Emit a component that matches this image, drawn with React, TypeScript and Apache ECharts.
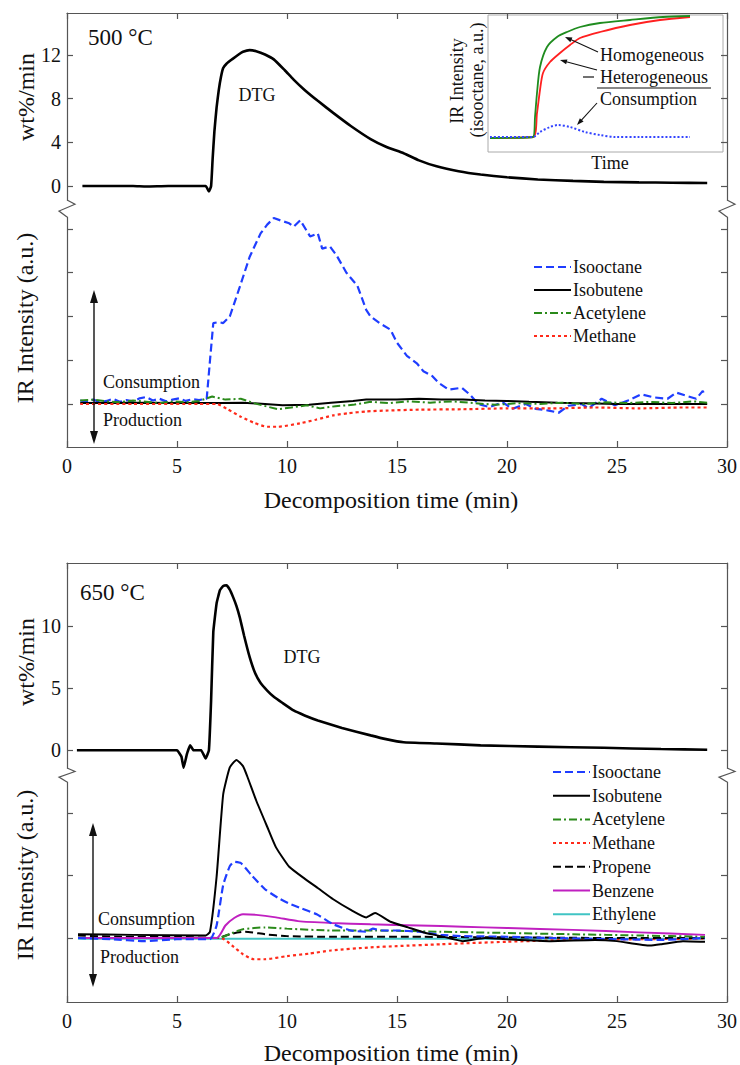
import React, { useEffect, useRef } from "react";
import * as echarts from "echarts";

// ---------- data ----------
const xTickValues = [0, 5, 10, 15, 20, 25, 30];
const dtgTicks500 = [0, 4, 8, 12];
const dtgTicks650 = [0, 5, 10];
const irTicks500 = [0, 1, 2, 3, 4];
const irTicks650 = [0, 1, 2];

const legend500 = ["Isooctane", "Isobutene", "Acetylene", "Methane"];
const legend650 = ["Isooctane", "Isobutene", "Acetylene", "Methane", "Propene", "Benzene", "Ethylene"];

const dtg500: [number, number][] = [
  [0.7, 0], [3.0, 0], [3.6, -0.05], [4.6, 0], [6.3, 0], [6.45, -0.5], [6.55, 0], [6.62, 2.5], [6.7, 5.0],
  [6.8, 7.2], [6.9, 8.8], [7.0, 10.0], [7.1, 10.8], [7.25, 11.2], [7.5, 11.6], [7.8, 12.05], [8.0, 12.3],
  [8.3, 12.45], [8.6, 12.35], [9.0, 12.05], [9.4, 11.6], [9.9, 10.6], [10.3, 9.75], [10.8, 8.8], [11.4, 7.8],
  [12.1, 6.7], [12.9, 5.5], [13.8, 4.3], [14.5, 3.6], [15.3, 3.0], [16.0, 2.35], [16.8, 1.8], [17.8, 1.35],
  [18.8, 1.05], [20.0, 0.8], [21.4, 0.6], [23.0, 0.47], [24.4, 0.38], [26.0, 0.33], [27.5, 0.3], [29.1, 0.27],
];

const isooctane500: [number, number][] = [
  [0.6, 0.08], [0.9, 0.05], [1.2, 0.1], [1.5, 0.04], [1.8, 0.07], [2.1, 0.12], [2.4, 0.05], [2.7, 0.09],
  [3.0, 0.06], [3.3, 0.13], [3.6, 0.16], [3.9, 0.08], [4.2, 0.12], [4.5, 0.06], [4.8, 0.1], [5.1, 0.13],
  [5.4, 0.07], [5.7, 0.11], [6.0, 0.09], [6.35, 0.12], [6.5, 1.0], [6.65, 1.85], [6.9, 1.87], [7.1, 1.85],
  [7.4, 2.0], [7.85, 2.67], [8.3, 3.36], [8.8, 3.9], [9.1, 4.1], [9.4, 4.25], [9.8, 4.18], [10.1, 4.13],
  [10.3, 4.05], [10.6, 4.2], [11.05, 3.83], [11.4, 3.9], [11.6, 3.55], [11.95, 3.6], [12.25, 3.4],
  [12.7, 3.0], [13.2, 2.7], [13.6, 2.15], [13.8, 2.0], [14.2, 1.85], [14.7, 1.7], [15.0, 1.4], [15.45, 1.1],
  [15.9, 0.93], [16.2, 0.75], [16.6, 0.64], [16.9, 0.48], [17.35, 0.33], [17.95, 0.37], [18.3, 0.22],
  [18.7, 0.0], [19.2, -0.07], [19.8, 0.04], [20.25, -0.11], [20.85, 0.0], [21.3, -0.11], [21.9, -0.15],
  [22.35, -0.2], [22.8, -0.04], [23.4, 0.0], [23.7, -0.1], [24.3, 0.12], [24.9, -0.03], [25.5, 0.08],
  [26.1, 0.22], [26.7, 0.15], [27.3, 0.12], [27.7, 0.26], [28.2, 0.18], [28.6, 0.12], [28.9, 0.3], [29.0, 0.18],
];

const isobutene500: [number, number][] = [
  [0.6, 0.02], [3, 0.03], [6, 0.02], [7, 0.02], [8, 0.03], [9, 0.0], [9.8, -0.03], [11, -0.02], [12, 0.03],
  [13, 0.07], [13.6, 0.1], [15, 0.1], [16, 0.12], [17, 0.1], [18, 0.1], [19, 0.08], [20, 0.07], [21, 0.05],
  [22.3, 0.03], [23, 0.02], [25, 0.0], [27, 0.0], [29.1, 0.0],
];

const acetylene500: [number, number][] = [
  [0.6, 0.08], [1.2, 0.1], [1.8, 0.06], [2.4, 0.04], [3.0, 0.08], [3.6, 0.05], [4.2, 0.02], [4.8, 0.06],
  [5.4, 0.04], [6.0, 0.07], [6.6, 0.17], [7.2, 0.1], [7.9, 0.12], [8.5, 0.02], [9.1, -0.06], [9.6, -0.12],
  [10.2, -0.08], [10.9, -0.03], [11.5, -0.1], [12.2, -0.05], [13.0, -0.02], [13.8, 0.05], [14.6, 0.02],
  [15.5, 0.06], [16.5, 0.03], [17.5, 0.06], [18.5, 0.02], [19.5, -0.02], [20.5, 0.02], [21.5, 0.0],
  [22.5, 0.03], [23.5, 0.0], [24.5, 0.04], [25.5, 0.02], [26.5, 0.05], [27.5, 0.02], [28.5, 0.06], [29.1, 0.03],
];

const methane500: [number, number][] = [
  [0.6, 0], [3, 0], [6, 0], [6.8, 0], [7.3, -0.12], [7.9, -0.29], [8.5, -0.43], [9.1, -0.52], [9.6, -0.52],
  [10.6, -0.44], [11.3, -0.36], [12.1, -0.26], [12.8, -0.21], [13.6, -0.17], [14.5, -0.15], [16, -0.13],
  [18, -0.12], [20, -0.1], [22, -0.1], [24, -0.08], [26, -0.1], [28, -0.08], [29.1, -0.08],
];

const dtg650: [number, number][] = [
  [0.45, 0], [2, 0], [3.5, 0], [5.0, 0], [5.2, -0.5], [5.3, -1.4], [5.45, -0.3], [5.6, 0.4], [5.75, 0],
  [6.1, 0], [6.3, -0.65], [6.45, 0], [6.55, 4.0], [6.65, 9.5], [6.8, 11.8], [6.95, 12.85], [7.1, 13.2],
  [7.25, 13.25], [7.4, 12.9], [7.55, 12.3], [7.7, 11.6], [7.85, 10.7], [8.05, 9.2], [8.3, 7.5], [8.55, 6.2],
  [8.8, 5.4], [9.1, 4.8], [9.4, 4.3], [9.8, 3.8], [10.3, 3.2], [10.8, 2.8], [11.4, 2.4], [12.5, 1.8],
  [13.8, 1.2], [14.5, 0.9], [15.3, 0.65], [16.8, 0.55], [18.8, 0.4], [21.4, 0.3], [24.4, 0.2], [27, 0.1],
  [29.1, 0.05],
];

const isobutene650: [number, number][] = [
  [0.5, 0.06], [3, 0.05], [6.3, 0.04], [6.5, 0.1], [6.8, 0.98], [7.1, 2.3], [7.4, 2.73], [7.7, 2.85],
  [8.0, 2.75], [8.2, 2.58], [8.6, 2.2], [9.1, 1.78], [9.5, 1.45], [10.1, 1.14], [10.8, 0.95], [11.4, 0.8],
  [12.1, 0.62], [12.9, 0.45], [13.6, 0.33], [14.0, 0.4], [14.7, 0.26], [15.5, 0.17], [16.3, 0.08], [17, 0.03],
  [18, -0.05], [19, 0.0], [20, -0.02], [22, -0.05], [24, -0.03], [25, -0.05], [26.5, -0.12], [27, -0.1],
  [28, -0.05], [29, -0.06],
];

const isooctane650: [number, number][] = [
  [0.5, 0.0], [2, -0.02], [3.5, -0.05], [5, -0.02], [6.5, -0.02], [6.8, 0.2], [7.1, 0.85], [7.4, 1.15],
  [7.6, 1.22], [7.9, 1.2], [8.4, 1.0], [9.0, 0.78], [9.6, 0.64], [10.1, 0.55], [10.6, 0.48], [11.35, 0.38],
  [12.1, 0.22], [12.9, 0.12], [13.6, 0.1], [13.9, 0.15], [14.3, 0.12], [15, 0.12], [16, 0.1], [17, 0.05],
  [18, 0.03], [20, 0.02], [22, 0.0], [25, -0.02], [27, -0.03], [29, 0.0],
];

const acetylene650: [number, number][] = [
  [0.5, 0.0], [6.9, 0.0], [7.5, 0.08], [8.0, 0.14], [9.0, 0.17], [10, 0.15], [12, 0.12], [14, 0.12],
  [17, 0.1], [20, 0.08], [23, 0.06], [26, 0.04], [29, 0.02],
];

const methane650: [number, number][] = [
  [0.5, 0], [7.0, 0], [7.5, -0.12], [8.0, -0.26], [8.5, -0.34], [9.0, -0.34], [10, -0.29], [11, -0.25],
  [12, -0.2], [13.8, -0.15], [15, -0.13], [17, -0.1], [20, -0.06], [23, -0.03], [26, -0.02], [29, -0.01],
];

const propene650: [number, number][] = [
  [0.5, 0.04], [2.5, 0.02], [5, 0.02], [6.8, 0.0], [7.5, 0.07], [8.1, 0.1], [9, 0.06], [10, 0.03],
  [12, 0.02], [15, 0.02], [20, 0.01], [25, 0.0], [29, 0.0],
];

const benzene650: [number, number][] = [
  [0.5, 0], [6.8, 0], [7.2, 0.2], [7.6, 0.32], [8.0, 0.38], [8.6, 0.37], [9.5, 0.33], [10.5, 0.27],
  [12, 0.24], [13.8, 0.22], [16, 0.2], [18, 0.18], [20, 0.16], [23, 0.13], [26, 0.09], [29, 0.05],
];

const ethylene650: [number, number][] = [
  [0.5, -0.01], [10, -0.01], [20, -0.01], [29, -0.01],
];

// inset (schematic): arbitrary time / intensity units
const insetHomogeneous: [number, number][] = [
  [2, 14], [45, 15], [47, 35], [49, 59], [52, 85], [59, 105], [69, 115], [79, 120], [92, 125], [112, 129],
  [142, 132], [175, 135], [202, 136],
];
const insetHeterogeneous: [number, number][] = [
  [2, 14], [45, 15], [49, 39], [52, 62], [55, 79], [62, 90], [72, 99], [82, 107], [92, 114], [112, 120],
  [142, 127], [172, 132], [202, 135],
];
const insetConsumption: [number, number][] = [
  [2, 15], [45, 15], [52, 20], [62, 25], [70, 27], [82, 25], [97, 20], [112, 17], [127, 15], [152, 15], [202, 15],
];

// ---------- styling helpers ----------
const FONT = '"Liberation Serif", "Times New Roman", serif';
const AX = { color: "#555", width: 1.2 };
const INK = "#111";

const C = {
  isooctane: "#1f3dff",
  isobutene: "#000000",
  acetylene: "#2a8a1a",
  methane: "#ff2a1a",
  propene: "#000000",
  benzene: "#c020c0",
  ethylene: "#40c4c4",
};

function xAxisDef(gridIndex: number, position: string, showLabels: boolean) {
  return {
    type: "value", gridIndex, position, min: 0, max: 30, interval: 5,
    axisLine: { show: true, onZero: false, lineStyle: AX },
    axisTick: { show: true, inside: true, length: 6, lineStyle: AX },
    axisLabel: { show: showLabels, fontFamily: FONT, fontSize: 20, color: INK, margin: 9,
      customValues: xTickValues },
    splitLine: { show: false },
  };
}

function yAxisDef(gridIndex: number, position: string, min: number, max: number, ticks: number[], showLabels: boolean) {
  return {
    type: "value", gridIndex, position, min, max,
    axisLine: { show: true, onZero: false, lineStyle: AX },
    axisTick: { show: true, inside: true, length: 6, lineStyle: AX, customValues: ticks },
    axisLabel: { show: showLabels, fontFamily: FONT, fontSize: 20, color: INK, margin: 6, customValues: ticks },
    splitLine: { show: false },
  };
}

function line(name: string, data: [number, number][], xi: number, yi: number, color: string, type: any, width: number, smooth: any = false) {
  return {
    type: "line", name, data, xAxisIndex: xi, yAxisIndex: yi, symbol: "none", showSymbol: false,
    clip: false, silent: true, smooth,
    lineStyle: { color, type, width }, itemStyle: { color },
  };
}

function txt(text: string, x: number, y: number, size: number, align = "left", rot = 0) {
  return {
    type: "text", x, y, rotation: rot, z: 10,
    style: { text, font: `${size}px ${FONT}`, fill: INK, align, verticalAlign: "middle",
      textAlign: align, textVerticalAlign: "middle" },
  };
}

function seg(x1: number, y1: number, x2: number, y2: number, w = 1.2, color = INK) {
  return { type: "line", z: 10, shape: { x1, y1, x2, y2 }, style: { stroke: color, lineWidth: w } };
}

function head(tx: number, ty: number, fx: number, fy: number, len: number, wid: number) {
  const dx = tx - fx, dy = ty - fy;
  const L = Math.hypot(dx, dy);
  const ux = dx / L, uy = dy / L;
  const bx = tx - ux * len, by = ty - uy * len;
  const px = (-uy * wid) / 2, py = (ux * wid) / 2;
  return { type: "polygon", z: 10, shape: { points: [[tx, ty], [bx + px, by + py], [bx - px, by - py]] }, style: { fill: INK } };
}

function arrow(fx: number, fy: number, tx: number, ty: number, len: number, wid: number, w = 1.1) {
  const dx = tx - fx, dy = ty - fy;
  const L = Math.hypot(dx, dy);
  const ex = tx - (dx / L) * (len * 0.8), ey = ty - (dy / L) * (len * 0.8);
  return [seg(fx, fy, ex, ey, w), head(tx, ty, fx, fy, len, wid)];
}

function doubleArrow(x: number, y1: number, y2: number) {
  return [seg(x, y1 + 10, x, y2 - 10, 1.4), head(x, y1, x, y1 + 10, 13, 8), head(x, y2, x, y2 - 10, 13, 8)];
}

function zig(x: number, y1: number, y2: number) {
  const h = y2 - y1;
  return {
    type: "polyline", z: 10,
    shape: { points: [[x, y1], [x + 8, y1 + h * 0.25], [x - 8, y1 + h * 0.65], [x, y2]] },
    style: { stroke: "#555", lineWidth: 1.2, fill: null },
  };
}

const legendCommon = {
  orient: "vertical", padding: 0, itemWidth: 37, itemHeight: 12, selectedMode: false,
  itemStyle: { opacity: 0, borderWidth: 0 },
  textStyle: { fontFamily: FONT, fontSize: 18, color: INK, padding: [0, 0, 0, -3] },
};

export default function App() {
  const ref = useRef<HTMLDivElement>(null);

  useEffect(() => {
    if (!ref.current) return;
    const chart = echarts.init(ref.current, undefined, { renderer: "svg" });

    const option: any = {
      animation: false,
      backgroundColor: "#ffffff",
      grid: [
        { left: 67, right: 13, top: 13, height: 187 },   // 0: DTG 500
        { left: 67, right: 13, top: 217, height: 230 },  // 1: IR 500
        { left: 67, right: 13, top: 563, height: 205 },  // 2: DTG 650
        { left: 67, right: 13, top: 782, height: 220 },  // 3: IR 650
        { left: 488, top: 15, width: 235, height: 137, show: true, borderColor: "#aaaaaa", borderWidth: 1 }, // 4: inset
      ],
      xAxis: [
        xAxisDef(0, "top", false),
        xAxisDef(1, "bottom", true),
        xAxisDef(2, "top", false),
        xAxisDef(3, "bottom", true),
        { type: "value", gridIndex: 4, min: 0, max: 235, show: false },
      ],
      yAxis: [
        yAxisDef(0, "left", -1.282, 15.847, dtgTicks500, true),
        yAxisDef(0, "right", -1.282, 15.847, dtgTicks500, false),
        yAxisDef(1, "left", -0.983, 4.274, irTicks500, false),
        yAxisDef(1, "right", -0.983, 4.274, irTicks500, false),
        yAxisDef(2, "left", -1.42, 15.04, dtgTicks650, true),
        yAxisDef(2, "right", -1.42, 15.04, dtgTicks650, false),
        yAxisDef(3, "left", -1.024, 2.496, irTicks650, false),
        yAxisDef(3, "right", -1.024, 2.496, irTicks650, false),
        { type: "value", gridIndex: 4, min: 0, max: 137, show: false },
      ],
      legend: [
        { ...legendCommon, data: legend500, left: 533, top: 258, itemGap: 5 },
        { ...legendCommon, data: legend650, left: 552, top: 763, itemGap: 5.7 },
      ],
      series: [
        line("DTG 500", dtg500, 0, 0, "#000", "solid", 2.6, 0.15),
        line("Isooctane", isooctane500, 1, 2, C.isooctane, [8, 4], 2.2),
        line("Isobutene", isobutene500, 1, 2, C.isobutene, "solid", 2),
        line("Acetylene", acetylene500, 1, 2, C.acetylene, [8, 3, 2, 3], 2),
        line("Methane", methane500, 1, 2, C.methane, [3, 3], 2.2, 0.2),

        line("DTG 650", dtg650, 2, 4, "#000", "solid", 2.6, 0.1),
        line("Ethylene", ethylene650, 3, 6, C.ethylene, "solid", 2),
        line("Methane", methane650, 3, 6, C.methane, [3, 3], 2.2, 0.2),
        line("Propene", propene650, 3, 6, C.propene, [8, 4], 2, 0.2),
        line("Acetylene", acetylene650, 3, 6, C.acetylene, [8, 3, 2, 3], 2, 0.2),
        line("Benzene", benzene650, 3, 6, C.benzene, "solid", 2, 0.2),
        line("Isooctane", isooctane650, 3, 6, C.isooctane, [8, 4], 2.2, 0.15),
        line("Isobutene", isobutene650, 3, 6, C.isobutene, "solid", 2, 0.15),

        line("inset heterogeneous", insetHeterogeneous, 4, 8, "#ff2020", "solid", 1.8, 0.25),
        line("inset homogeneous", insetHomogeneous, 4, 8, "#1f8c1f", "solid", 1.8, 0.25),
        line("inset consumption", insetConsumption, 4, 8, "#3344ff", [2, 2], 2, 0.3),
      ],
      graphic: [
        // axis breaks
        zig(67, 200, 217), zig(727, 200, 217),
        zig(67, 768, 782), zig(727, 768, 782),
        // top panel texts
        txt("500 °C", 88, 37, 23),
        txt("DTG", 257, 95, 18, "center"),
        txt("Consumption", 103, 382, 18),
        txt("Production", 103, 420, 18),
        ...doubleArrow(94, 290, 444),
        txt("wt%/min", 26, 97, 24, "center", Math.PI / 2),
        txt("IR Intensity (a.u.)", 25, 318, 24, "center", Math.PI / 2),
        txt("Decomposition time (min)", 391, 500, 24, "center"),
        // inset texts
        txt("IR Intensity", 457, 81, 18, "center", Math.PI / 2),
        txt("(isooctane, a.u.)", 477, 80, 18, "center", Math.PI / 2),
        txt("Time", 610, 163, 18, "center"),
        txt("Homogeneous", 600, 55, 18),
        txt("Heterogeneous", 600, 77, 18),
        txt("Consumption", 600, 99, 18),
        seg(583, 77, 594, 77, 1.2),
        seg(597, 88, 711, 88, 1.2),
        ...arrow(598, 52, 565, 37, 7, 5),
        ...arrow(597, 70, 560, 60, 7, 5),
        ...arrow(597, 103, 577, 125, 7, 5),
        // bottom panel texts
        txt("650 °C", 80, 592, 23),
        txt("DTG", 302, 657, 18, "center"),
        txt("Consumption", 98, 919, 18),
        txt("Production", 100, 957, 18),
        ...doubleArrow(93, 823, 987),
        txt("wt%/min", 26, 662, 24, "center", Math.PI / 2),
        txt("IR Intensity (a.u.)", 25, 875, 24, "center", Math.PI / 2),
        txt("Decomposition time (min)", 391, 1053, 24, "center"),
      ],
    };

    chart.setOption(option);
    return () => chart.dispose();
  }, []);

  return (
    <div
      ref={ref}
      style={{ position: "absolute", left: 0, top: 0, width: 740, height: 1065, background: "#fff" }}
    />
  );
}
